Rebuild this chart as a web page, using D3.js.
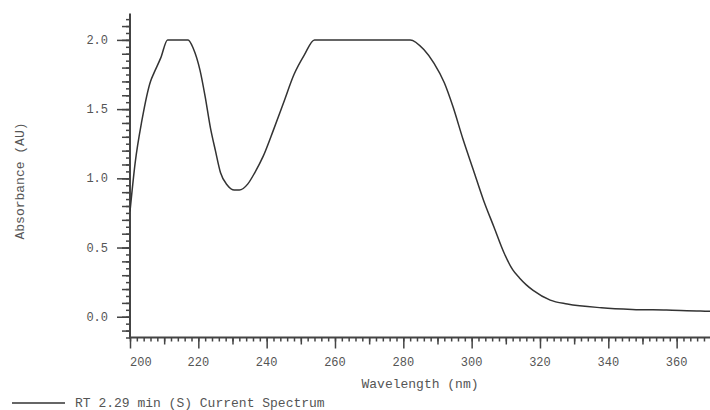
<!DOCTYPE html>
<meta charset="utf-8">
<script src="https://d3js.org/d3.v7.min.js"></script>
<style>
    body { margin: 0; background: #fff; }
    .lbl { font-family: "Liberation Mono", "DejaVu Sans Mono", monospace; fill: #555; }
</style>
<div id="chart"></div>
<script>

    // spectrum (nm, AU)
    const wavelength = [200, 201.5, 203.5, 206, 207, 209, 211, 217, 218.5, 220.5, 222, 223.5, 225, 226.5, 228.5,
        230.5, 232, 234.5, 236.5, 239, 242, 245, 248, 251, 254, 282, 286, 289, 292, 294.5, 297.5,
        300.5, 303.5, 306.5, 309.5, 312, 314, 316, 318, 323, 328, 338, 347, 357, 367, 370]
    const absorbance = [0.76, 1.11, 1.42, 1.70, 1.76, 1.87, 2.00, 2.00, 1.94, 1.78, 1.59, 1.37, 1.20, 1.04, 0.95,
        0.915, 0.915, 0.96, 1.04, 1.16, 1.35, 1.55, 1.75, 1.89, 2.00, 2.00, 1.93, 1.83, 1.69, 1.52, 1.28,
        1.06, 0.84, 0.65, 0.46, 0.34, 0.28, 0.23, 0.19, 0.12, 0.092, 0.065, 0.053, 0.048, 0.041, 0.04]

    const xTicks = [200, 220, 240, 260, 280, 300, 320, 340, 360]
    const yTicks = [0.0, 0.5, 1.0, 1.5, 2.0]
    const legendText = "RT 2.29 min (S) Current Spectrum"

    const W = 710, H = 410
    const svg = d3.select("#chart").append("svg")
        .attr("width", W).attr("height", H)

    const x = d3.scaleLinear().domain([200, 370]).range([130, 710.8])
    const y = d3.scaleLinear().domain([-0.15, 2.19]).range([337.5, 13.6])

    const axisColor = "#444"

    // x axis: minor every 2 nm, medium every 10, major every 20
    const xMinor = d3.range(200, 371, 2)
    const xMid = d3.range(210, 371, 20)
    const gx = svg.append("g").attr("transform", "translate(0,337.5)")
    gx.append("g").call(d3.axisBottom(x).tickValues(xMinor).tickSize(4).tickFormat(""))
    gx.append("g").call(d3.axisBottom(x).tickValues(xMid).tickSize(7).tickFormat(""))
    gx.append("g").call(d3.axisBottom(x).tickValues(xTicks).tickSize(11).tickFormat(""))
    gx.selectAll(".domain").remove()
    gx.selectAll("line").attr("stroke", axisColor).attr("stroke-width", 1.5)
    gx.append("line").attr("x1", 129).attr("x2", W).attr("y1", 0).attr("y2", 0)
        .attr("stroke", axisColor).attr("stroke-width", 2)

    // first label sits to the right of its tick, the rest are centred
    svg.selectAll(".xlab")
        .data(xTicks)
        .join("text")
        .attr("class", "lbl")
        .attr("x", d => x(d))
        .attr("y", 366)
        .attr("text-anchor", (d, i) => i === 0 ? "start" : "middle")
        .style("font-size", "12px")
        .text(d => d)

    // y axis: minor every 0.05, medium every 0.1, major every 0.5
    const yMinor = d3.range(-3, 44).map(i => +(i * 0.05).toFixed(2))
    const yMid = d3.range(-1, 22).map(i => +(i * 0.1).toFixed(2))
    const gy = svg.append("g").attr("transform", "translate(130,0)")
    gy.append("g").call(d3.axisLeft(y).tickValues(yMinor).tickSize(4).tickFormat(""))
    gy.append("g").call(d3.axisLeft(y).tickValues(yMid).tickSize(8).tickFormat(""))
    gy.append("g").call(d3.axisLeft(y).tickValues(yTicks).tickSize(13).tickFormat(""))
    gy.selectAll(".domain").remove()
    gy.selectAll("line").attr("stroke", axisColor).attr("stroke-width", 1.5)
    gy.append("line").attr("x1", 0).attr("x2", 0).attr("y1", y(2.19)).attr("y2", 338.5)
        .attr("stroke", axisColor).attr("stroke-width", 2)

    svg.selectAll(".ylab")
        .data(yTicks)
        .join("text")
        .attr("class", "lbl")
        .attr("x", 108)
        .attr("y", d => y(d) + 4)
        .attr("text-anchor", "end")
        .style("font-size", "12px")
        .text(d => d.toFixed(1))

    // axis titles
    svg.append("text").attr("class", "lbl")
        .attr("transform", "translate(24,181) rotate(-90)")
        .attr("text-anchor", "middle")
        .style("font-size", "13px")
        .text("Absorbance (AU)")

    svg.append("text").attr("class", "lbl")
        .attr("x", 420).attr("y", 388)
        .attr("text-anchor", "middle")
        .style("font-size", "13px")
        .text("Wavelength (nm)")

    // spectrum
    const pts = wavelength.map((w, i) => [w, absorbance[i]])
    svg.append("clipPath").attr("id", "plot")
        .append("rect").attr("x", 130).attr("y", 0).attr("width", W - 130).attr("height", 338)
    svg.append("path")
        .datum(pts)
        .attr("clip-path", "url(#plot)")
        .attr("fill", "none")
        .attr("stroke", "#333")
        .attr("stroke-width", 1.5)
        .attr("d", d3.line().x(d => x(d[0])).y(d => y(d[1])).curve(d3.curveMonotoneX))

    // legend
    svg.append("line").attr("x1", 12).attr("x2", 65).attr("y1", 403).attr("y2", 403)
        .attr("stroke", "#333").attr("stroke-width", 1.5)
    svg.append("text").attr("class", "lbl")
        .attr("x", 75).attr("y", 407)
        .style("font-size", "13px")
        .text(legendText)
</script>
